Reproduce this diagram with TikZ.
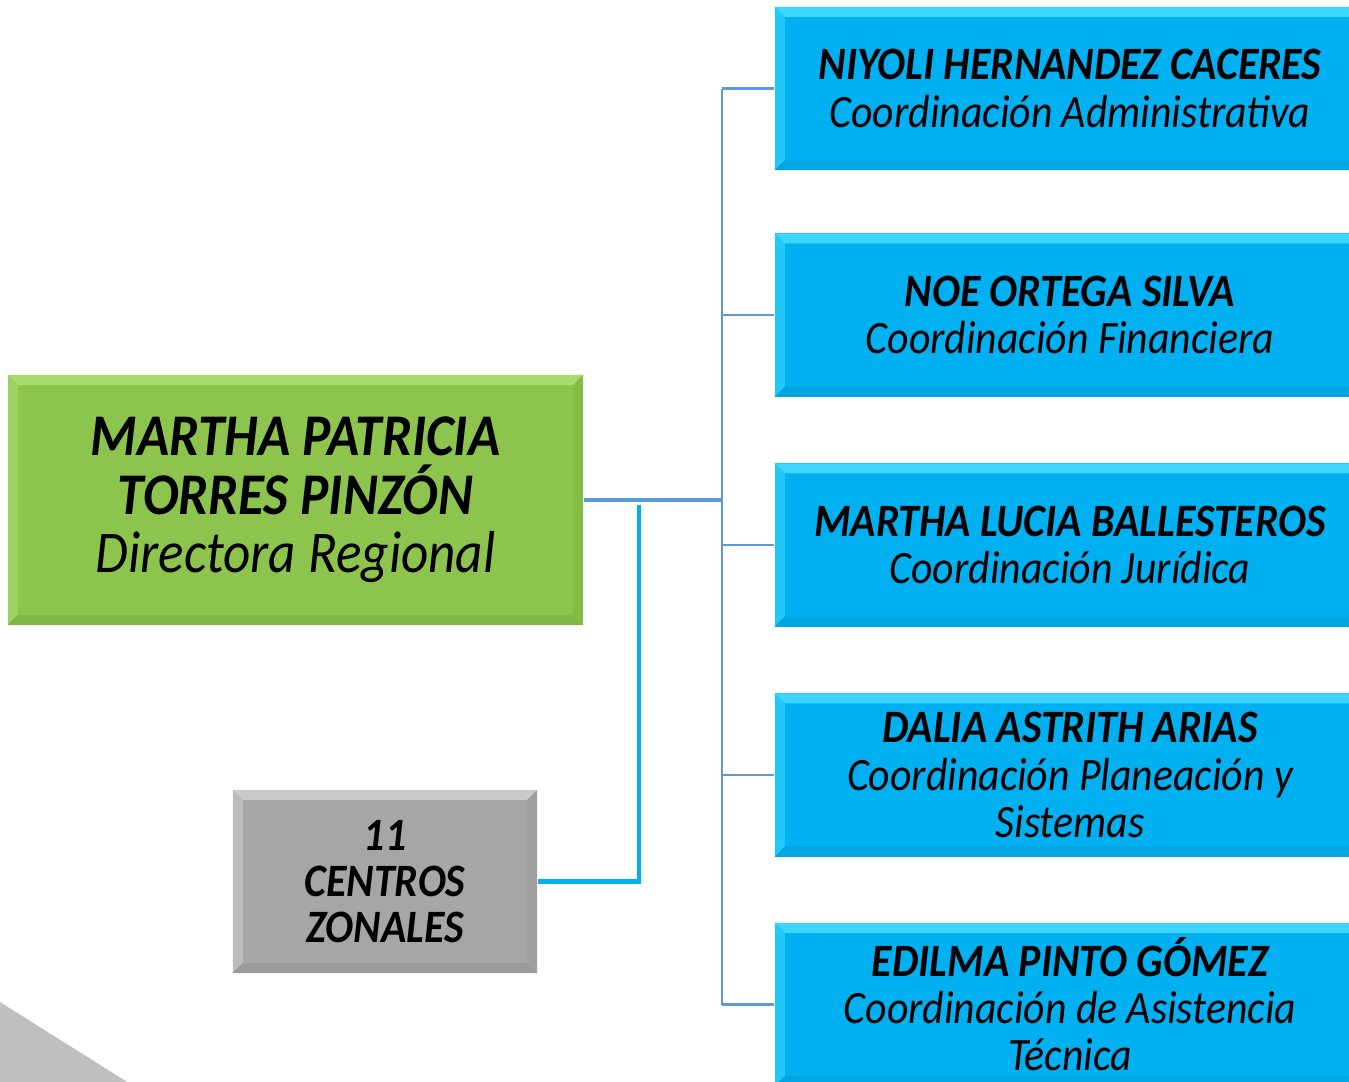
\documentclass[tikz,border=0pt]{standalone}
\usepackage{fontspec}
\setmainfont{Carlito}[FakeStretch=0.9]
\usetikzlibrary{calc}
\definecolor{grn}{HTML}{8CC44E}
\definecolor{grnL}{HTML}{A9DA6E}
\definecolor{grnD}{HTML}{80B845}
\definecolor{blu}{HTML}{00B0F0}
\definecolor{bluL}{HTML}{3CD6FF}
\definecolor{bluD}{HTML}{00A5E2}
\definecolor{gry}{HTML}{A6A6A6}
\definecolor{gryL}{HTML}{CACACA}
\definecolor{gryD}{HTML}{9A9A9A}
\definecolor{conncol}{HTML}{5B9BD5}
\definecolor{tricol}{HTML}{BFBFBF}
\tikzset{
  bev/.style n args={3}{fill=#1, inner sep=0pt, align=center,
    path picture={
      \def\bb{path picture bounding box}
      \fill[#2] (\bb.north west) -- (\bb.north east) -- ([xshift=-0.1cm,yshift=-0.1cm]\bb.north east) -- ([xshift=0.1cm,yshift=-0.1cm]\bb.north west) -- cycle;
      \fill[#2!60!#1] (\bb.north west) -- ([xshift=0.1cm,yshift=-0.1cm]\bb.north west) -- ([xshift=0.1cm,yshift=0.1cm]\bb.south west) -- (\bb.south west) -- cycle;
      \fill[#3] (\bb.south west) -- ([xshift=0.1cm,yshift=0.1cm]\bb.south west) -- ([xshift=-0.1cm,yshift=0.1cm]\bb.south east) -- (\bb.south east) -- cycle;
      \fill[#3!60!#1] (\bb.south east) -- ([xshift=-0.1cm,yshift=0.1cm]\bb.south east) -- ([xshift=-0.1cm,yshift=-0.1cm]\bb.north east) -- (\bb.north east) -- cycle;
    }},
  greenbox/.style={bev={grn}{grnL}{grnD}, minimum width=5.75cm, minimum height=2.5cm,
    font=\fontsize{16.8}{16.6}\selectfont\itshape},
  bluebox/.style={bev={blu}{bluL}{bluD}, minimum width=5.9cm, minimum height=1.63cm,
    font=\fontsize{13.2}{13.4}\selectfont\itshape},
  graybox/.style={bev={gry}{gryL}{gryD}, minimum width=3.04cm, minimum height=1.83cm,
    font=\fontsize{13.2}{13.1}\selectfont\bfseries\itshape},
  conn/.style={draw=conncol, line width=0.8pt},
  thickconn/.style={draw=blu, line width=1.4pt}
}
\begin{document}
\begin{tikzpicture}[x=0.01cm, y=-0.01cm]
\useasboundingbox (0,0) rectangle (1349,1081);
\fill[tricol] (0,1002) -- (140,1090) -- (0,1090) -- cycle;

\node[greenbox] (dir) at (295.5,500) {\textbf{MARTHA PATRICIA}\\\textbf{TORRES PINZÓN}\\Directora Regional};

\node[bluebox] (b1) at (1070,88.5) {\textbf{NIYOLI HERNANDEZ CACERES}\\Coordinación Administrativa};
\node[bluebox] (b2) at (1070,315) {\textbf{NOE ORTEGA SILVA}\\Coordinación Financiera};
\node[bluebox] (b3) at (1070,545) {\textbf{MARTHA LUCIA BALLESTEROS}\\Coordinación Jurídica};
\node[bluebox] (b4) at (1070,775) {\textbf{DALIA ASTRITH ARIAS}\\Coordinación Planeación y\\Sistemas};
\node[bluebox] (b5) at (1070,1004.5) {\textbf{EDILMA PINTO GÓMEZ}\\Coordinación de Asistencia\\Técnica};

\node[graybox] (cz) at (385,881.5) {11\\CENTROS\\ZONALES};

\coordinate (J) at (722,499);
\coordinate (T) at (639,505);
\draw[conn, line width=1.1pt] (dir.east) -- (dir.east -| J);
\draw[conn] (J |- b1.west) -- (J |- b5.west);
\foreach \b in {b1,b2,b3,b4,b5} {
  \draw[conn] (J |- \b.west) -- (\b.west);
}
\draw[thickconn] (T) |- (cz.east);
\end{tikzpicture}
\end{document}
